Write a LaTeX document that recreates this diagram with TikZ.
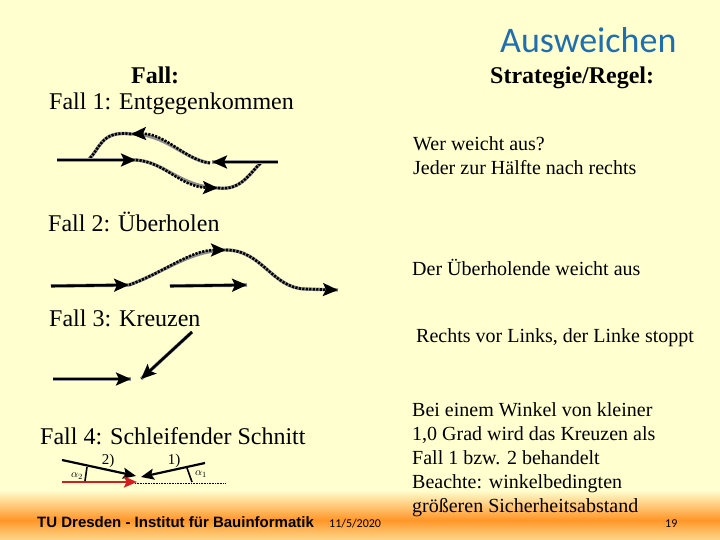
\documentclass[tikz,border=0pt]{standalone}
\usepackage{fontspec}
\setmainfont{Liberation Serif}
\newfontfamily\calib{Carlito}
\newfontfamily\arialf{Liberation Sans}
\usetikzlibrary{arrows.meta}
\definecolor{bgyellow}{RGB}{255,255,208}
\definecolor{footorange}{RGB}{255,150,40}
\definecolor{footlight}{RGB}{255,215,140}
\definecolor{titleblue}{RGB}{30,110,176}
\definecolor{arrred}{RGB}{210,30,30}
\tikzset{
  txt/.style={inner sep=0pt, anchor=base west, font=\fontsize{20}{24}\selectfont},
  bigtxt/.style={inner sep=0pt, anchor=base west, font=\fontsize{24}{28}\selectfont},
  headtip/.style={-{Stealth[length=15pt,width=13pt,inset=3pt]}},
  solidarr/.style={line width=2.6pt, headtip,
     preaction={draw=black!40, line width=3.6pt, arrows=-}},
  dotline/.style={line width=2.6pt, dash pattern=on 2.2pt off 1.3pt,
     preaction={draw=black!45, line width=3.4pt, solid, arrows=-}},
  dotarr/.style={dotline, headtip},
  thinarr/.style={line width=2.2pt, -{Stealth[length=13pt,width=11pt,inset=2.5pt]}},
}
\begin{document}
\begin{tikzpicture}[x=1pt,y=-1pt]
\useasboundingbox (0,0) rectangle (720,540);
\fill[bgyellow] (0,0) rectangle (720,540);
\shade[top color=bgyellow, bottom color=footorange] (0,490) rectangle (720,520);
\shade[top color=footorange, bottom color=footlight] (0,520) rectangle (720,540);

% title and headers
\node[inner sep=0pt, anchor=base west, font=\calib\fontsize{36}{40}\selectfont, text=titleblue] (title) at (500,53) {Ausweichen};
\node[inner sep=0pt, anchor=base west, font=\fontsize{24}{28}\selectfont\bfseries] (fallh) at (131,84) {Fall:};
\node[inner sep=0pt, anchor=base west, font=\fontsize{24}{28}\selectfont\bfseries] (strat) at (490,84) {Strategie/Regel:};

\node[bigtxt] (f1) at (49,110) {Fall 1: Entgegenkommen};
\node[txt] (r1a) at (413,151) {Wer weicht aus?};
\node[txt] (r1b) at (413,175) {Jeder zur Hälfte nach rechts};
\node[bigtxt] (f2) at (48,231) {Fall 2: Überholen};
\node[txt] (r2) at (412,275) {Der Überholende weicht aus};
\node[bigtxt] (f3) at (49,326) {Fall 3: Kreuzen};
\node[txt] (r3) at (416,342) {Rechts vor Links, der Linke stoppt};
\node[bigtxt] (f4) at (40,444) {Fall 4: Schleifender Schnitt};
\node[txt] (r4a) at (412,416) {Bei einem Winkel von kleiner};
\node[txt] (r4b) at (412,440) {1,0 Grad wird das Kreuzen als};
\node[txt] (r4c) at (412,464) {Fall 1 bzw. 2 behandelt};
\node[txt] (r4d) at (412,488) {Beachte: winkelbedingten};
\node[txt] (r4e) at (412,512) {größeren Sicherheitsabstand};

% Fall 1
\coordinate (a1) at (57,160); \coordinate (a2) at (136,160);
\coordinate (a3) at (218,188); \coordinate (a4) at (262,162);
\coordinate (b1) at (278,162); \coordinate (b2) at (212,162);
\coordinate (b3) at (131,134); \coordinate (b4) at (88,160);
\draw[dotarr] (a2) .. controls (165,162) and (180,187) .. (a3);
\draw[dotline] (a3) .. controls (242,191) and (250,172) .. (a4);
\draw[dotarr] (210,163) .. controls (185,160) and (165,133) .. (b3);
\draw[dotline] (b3) .. controls (100,130) and (100,150) .. (b4);
\draw[solidarr] (a1) -- (a2);
\draw[solidarr] (b1) -- (b2);

% Fall 2
\coordinate (c1) at (51,286); \coordinate (c2) at (129,285);
\coordinate (c3) at (226,250); \coordinate (c4) at (338,290);
\coordinate (d1) at (170,286); \coordinate (d2) at (247,285);
\draw[dotarr] (c2) .. controls (165,272) and (190,250) .. (c3);
\draw[dotarr] (c3) .. controls (262,250) and (272,288) .. (305,289) -- (c4);
\draw[solidarr] (c1) -- (c2);
\draw[solidarr] (d1) -- (d2);

% Fall 3
\coordinate (e1) at (53,379); \coordinate (e2) at (131,379);
\coordinate (g1) at (192,332); \coordinate (g2) at (141,379);
\draw[solidarr] (e1) -- (e2);
\draw[solidarr] (g1) -- (g2);

% Fall 4
\coordinate (h1) at (62,460); \coordinate (h2) at (136,476);
\coordinate (k1) at (62,482); \coordinate (k2) at (137,482);
\coordinate (m1) at (205,463); \coordinate (m2) at (141,477);
\coordinate (n1) at (135,483); \coordinate (n2) at (225,483);
\draw[line width=0.7pt, dash pattern=on 1pt off 0.6pt] (n1) -- (n2);
\draw[thinarr] (h1) -- (h2);
\draw[thinarr, arrred] (k1) -- (k2);
\draw[thinarr] (m1) -- (m2);
\draw[line width=1.6pt] (87,467) -- (85,481);
\draw[line width=1.6pt] (187,468) -- (192,482);
\node[inner sep=0pt, font=\fontsize{11}{12}\selectfont] (al2) at (77,476) {$\alpha_2$};
\node[inner sep=0pt, font=\fontsize{11}{12}\selectfont] (al1) at (201,474) {$\alpha_1$};
\node[inner sep=0pt, font=\fontsize{15}{16}\selectfont] (l2) at (108,461) {2)};
\node[inner sep=0pt, font=\fontsize{15}{16}\selectfont] (l1) at (174,461) {1)};

% footer
\node[inner sep=0pt, anchor=base west, font=\arialf\bfseries\fontsize{15}{17}\selectfont] (ft) at (37,527) {TU Dresden - Institut für Bauinformatik};
\node[inner sep=0pt, anchor=base west, font=\calib\fontsize{12}{14}\selectfont] (fd) at (329,527) {11/5/2020};
\node[inner sep=0pt, anchor=base west, font=\calib\fontsize{12}{14}\selectfont] (fp) at (665,527) {19};
\end{tikzpicture}
\end{document}
